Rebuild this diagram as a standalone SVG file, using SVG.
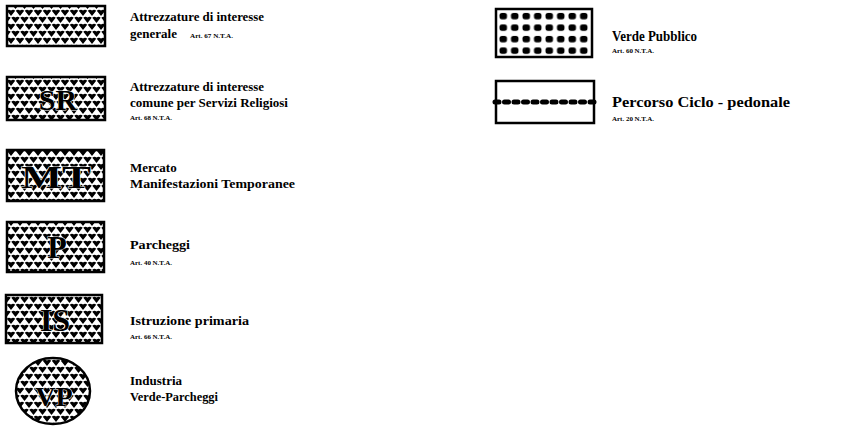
<svg xmlns="http://www.w3.org/2000/svg" width="851" height="430" viewBox="0 0 851 430">
<defs>
<pattern id="hearts" patternUnits="userSpaceOnUse" width="9" height="14" x="2" y="2">
<rect width="9" height="14" fill="#fff"/>
<path d="M0.3,1.8 Q2.4,-0.4 4.5,1.6 Q6.6,-0.4 8.7,1.8 L4.5,7 Z" fill="#000"/>
<path d="M-4.2,8.8 Q-2.1,6.6 0,8.6 Q2.1,6.6 4.2,8.8 L0,14 Z" fill="#000"/>
<path d="M4.8,8.8 Q6.9,6.6 9,8.6 Q11.1,6.6 13.2,8.8 L9,14 Z" fill="#000"/>
</pattern>
<pattern id="dots" patternUnits="userSpaceOnUse" width="11.5" height="11.5" x="498" y="11">
<rect width="11.5" height="11.5" fill="#fff"/>
<rect x="1.5" y="1.8" width="7.5" height="6.5" rx="2.5" fill="#000"/>
</pattern>
<style>
.box{stroke:#000;stroke-width:2.5}
.lbl{font-family:"Liberation Serif",serif;font-weight:bold;font-size:13px;fill:#000}
.lbr{font-family:"Liberation Serif",serif;font-weight:bold;font-size:14px;fill:#000}
.art{font-family:"Liberation Serif",serif;font-weight:bold;font-size:7px;fill:#000}
.sym{font-family:"Liberation Serif",serif;font-weight:bold;fill:#000;stroke:#fff;stroke-width:1;paint-order:stroke}
</style>
</defs>
<rect width="851" height="430" fill="#fff"/>

<g id="attrezzature-generale">
<rect class="box" x="7" y="6" width="98" height="40" fill="url(#hearts)"/>
<text class="lbl" x="130" y="21" textLength="134" lengthAdjust="spacingAndGlyphs">Attrezzature di interesse</text>
<text class="lbl" x="130" y="38" font-size="14">generale</text>
<text class="art" x="190" y="38" textLength="43" lengthAdjust="spacingAndGlyphs">Art. 67 N.T.A.</text>
</g>

<g id="servizi-religiosi">
<rect class="box" x="7" y="77" width="98" height="43" fill="url(#hearts)"/>
<text class="sym" x="58" y="110" font-size="30" text-anchor="middle">SR</text>
<text class="lbl" x="130" y="91" textLength="134" lengthAdjust="spacingAndGlyphs">Attrezzature di interesse</text>
<text class="lbl" x="130" y="107" textLength="158" lengthAdjust="spacingAndGlyphs">comune per Servizi Religiosi</text>
<text class="art" x="130" y="120" textLength="42" lengthAdjust="spacingAndGlyphs">Art. 68 N.T.A.</text>
</g>

<g id="mercato">
<rect class="box" x="7" y="150" width="97" height="51" fill="url(#hearts)"/>
<text class="sym" x="56" y="188" font-size="32" text-anchor="middle" textLength="70" lengthAdjust="spacingAndGlyphs">MT</text>
<text class="lbl" x="130" y="172">Mercato</text>
<text class="lbl" x="130" y="188" textLength="165" lengthAdjust="spacingAndGlyphs">Manifestazioni Temporanee</text>
</g>

<g id="parcheggi">
<rect class="box" x="7" y="222" width="97" height="50" fill="url(#hearts)"/>
<text class="sym" x="57" y="258" font-size="32" text-anchor="middle">P</text>
<text class="lbl" x="130" y="249" textLength="60" lengthAdjust="spacingAndGlyphs">Parcheggi</text>
<text class="art" x="130" y="265" textLength="42" lengthAdjust="spacingAndGlyphs">Art. 40 N.T.A.</text>
</g>

<g id="istruzione">
<rect class="box" x="6" y="295" width="96" height="48" fill="url(#hearts)"/>
<text class="sym" x="55" y="331" font-size="32" text-anchor="middle">IS</text>
<text class="lbl" x="130" y="325" textLength="119" lengthAdjust="spacingAndGlyphs">Istruzione primaria</text>
<text class="art" x="130" y="339" textLength="42" lengthAdjust="spacingAndGlyphs">Art. 66 N.T.A.</text>
</g>

<g id="industria">
<ellipse class="box" cx="53" cy="391" rx="37" ry="33" fill="url(#hearts)"/>
<text class="sym" x="54" y="406" font-size="28" text-anchor="middle">VP</text>
<text class="lbl" x="130" y="385">Industria</text>
<text class="lbl" x="130" y="401" textLength="88" lengthAdjust="spacingAndGlyphs">Verde-Parcheggi</text>
</g>

<g id="verde-pubblico">
<rect class="box" x="496" y="9" width="96" height="48" fill="url(#dots)"/>
<text class="lbr" x="612" y="41" textLength="85" lengthAdjust="spacingAndGlyphs">Verde Pubblico</text>
<text class="art" x="612" y="53" textLength="42" lengthAdjust="spacingAndGlyphs">Art. 60 N.T.A.</text>
</g>

<g id="percorso">
<rect class="box" x="496" y="81" width="98" height="42" fill="#fff"/>
<line x1="495" y1="102" x2="598" y2="102" stroke="#000" stroke-width="5" stroke-linecap="round" stroke-dasharray="4 5.5"/>
<text class="lbr" x="612" y="107" textLength="178" lengthAdjust="spacingAndGlyphs">Percorso Ciclo - pedonale</text>
<text class="art" x="612" y="121" textLength="42" lengthAdjust="spacingAndGlyphs">Art. 20 N.T.A.</text>
</g>

<g id="connectors"></g>
</svg>
